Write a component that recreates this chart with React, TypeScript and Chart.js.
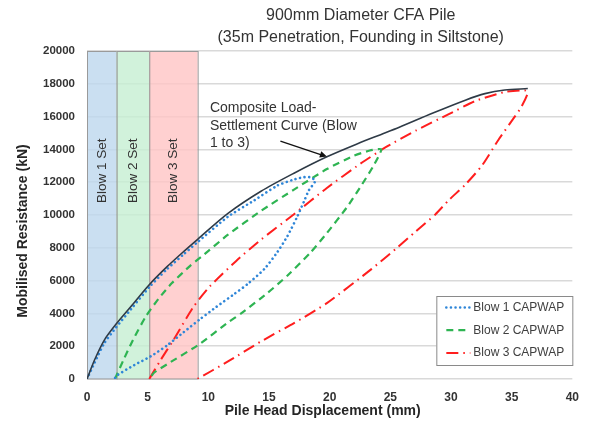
import React, { useEffect, useRef } from "react";
import { Chart, registerables } from "chart.js";

Chart.register(...registerables);

// ---------------- DATA ----------------
const titleLines = ["900mm Diameter CFA Pile", "(35m Penetration, Founding in Siltstone)"];
const xAxisTitle = "Pile Head Displacement (mm)";
const yAxisTitle = "Mobilised Resistance (kN)";
const xMin = 0, xMax = 40, xStep = 5;
const yMin = 0, yMax = 20000, yStep = 2000;

const compositeX = [0, 0.63, 1.44, 2.4, 3.62, 5.13, 6.6, 7.96, 9.12, 11.62, 14.34, 17.06, 19.77, 22.48, 24.2, 25.74, 28.46, 31.18, 32.8, 34.43, 36.33];
const compositeY = [0, 1175, 2390, 3350, 4420, 5750, 6850, 7770, 8520, 10100, 11450, 12550, 13550, 14400, 14900, 15350, 16200, 17000, 17400, 17620, 17710];

const blow1X = [0, 0.63, 1.44, 2.4, 3.62, 5.13, 6.6, 7.96, 9.12, 11.62, 13.8, 15.7, 17.0, 17.8, 18.41, 18.82, 18.28, 17.87, 17.33, 16.51, 15.7, 14.61, 13.25, 12.17, 10.67, 9.32, 7.96, 6.6, 5.25, 3.89, 2.53, 2.25];
const blow1Y = [0, 1000, 2200, 3150, 4250, 5600, 6700, 7600, 8350, 9900, 10900, 11800, 12150, 12300, 12300, 12090, 11500, 10800, 9900, 8700, 7750, 6700, 5800, 5200, 4400, 3650, 2850, 2050, 1380, 850, 250, 0];

const blow2X = [2.3, 3.0, 3.8, 4.84, 5.9, 7.0, 8.5, 9.59, 11.62, 14.34, 17.06, 19.77, 21.95, 23.3, 24.25, 23.57, 22.48, 21.4, 19.77, 18.41, 16.51, 14.88, 12.71, 11.62, 9.32, 6.6, 5.52, 5.15];
const blow2Y = [0, 1150, 2400, 3800, 4900, 5850, 6900, 7550, 8800, 10250, 11550, 12800, 13600, 13930, 14000, 12950, 11650, 10450, 8900, 7700, 6300, 5250, 4000, 3450, 2150, 900, 380, 0];

const blow3X = [5.13, 6.06, 7.14, 8.77, 10.13, 12.3, 14.34, 17.06, 19.77, 22.48, 24.66, 27.1, 29.82, 32.0, 34.43, 36.06, 36.33, 35.8, 35.24, 33.89, 32.54, 31.18, 29.82, 28.73, 27.1, 25.47, 23.44, 19.77, 17.06, 14.34, 11.62, 9.1];
const blow3Y = [0, 1150, 2400, 4400, 5650, 7200, 8500, 10050, 11650, 13100, 14150, 15150, 16150, 16950, 17500, 17600, 17450, 16590, 15980, 14560, 13000, 11850, 10910, 10050, 9000, 7950, 6700, 4625, 3410, 2290, 1070, 0];

const legendLabels = ["Blow 1 CAPWAP", "Blow 2 CAPWAP", "Blow 3 CAPWAP"];
const bandLabels = ["Blow 1 Set", "Blow 2 Set", "Blow 3 Set"];
const bandEdges = [0, 2.44, 5.13, 9.12];
const bandLabelY = 12700;
const annotationLines = ["Composite Load-", "Settlement Curve (Blow", "1 to 3)"];
const annotationPos = { x: 10.13, y: [16505, 15410, 14380] };
const arrowFrom = { x: 15.94, y: 14500 };
const arrowTo = { x: 19.77, y: 13560 };

// ---------------- STYLE ----------------
const FONT = "'Liberation Sans', Arial, sans-serif";
const TEXT = "#404040";
const colors = {
  composite: "#2f3b47",
  blow1: "#2f86d8",
  blow2: "#2eb452",
  blow3: "#ff1e1e",
};
const dashes = {
  blow1: [0.01, 4.6],
  blow2: [7, 5],
  blow3: [12, 5, 1.5, 5],
};
const bandFills = ["rgba(189,215,238,0.8)", "rgba(198,239,210,0.8)", "rgba(255,196,196,0.8)"];

const toPoints = (xs: number[], ys: number[]) => xs.map((x, i) => ({ x, y: ys[i] }));

const overlay = {
  id: "overlay",
  beforeDatasetsDraw(chart: any) {
    const { ctx, scales } = chart;
    const xs = scales.x, ys = scales.y;
    const top = ys.getPixelForValue(yMax), bottom = ys.getPixelForValue(yMin);
    ctx.save();
    for (let i = 0; i < bandLabels.length; i++) {
      const x0 = xs.getPixelForValue(bandEdges[i]);
      const x1 = xs.getPixelForValue(bandEdges[i + 1]);
      ctx.fillStyle = bandFills[i];
      ctx.fillRect(x0, top, x1 - x0, bottom - top);
      ctx.strokeStyle = "#9a9a9a";
      ctx.lineWidth = 1;
      ctx.strokeRect(x0 + 0.5, top + 0.5, x1 - x0, bottom - top - 0.5);
      ctx.save();
      ctx.translate((x0 + x1) / 2, ys.getPixelForValue(bandLabelY));
      ctx.rotate(-Math.PI / 2);
      ctx.fillStyle = "#333";
      ctx.font = `13.5px ${FONT}`;
      ctx.textAlign = "center";
      ctx.textBaseline = "middle";
      ctx.fillText(bandLabels[i], 0, 0);
      ctx.restore();
    }
    ctx.restore();
  },
  afterDraw(chart: any) {
    const { ctx, scales, chartArea } = chart;
    const xs = scales.x, ys = scales.y;
    ctx.save();
    // title
    ctx.fillStyle = "#333";
    ctx.font = `16px ${FONT}`;
    ctx.textAlign = "center";
    ctx.textBaseline = "middle";
    const tx = chartArea.left + (chartArea.right - chartArea.left) * 0.564;
    ctx.fillText(titleLines[0], tx, 16);
    ctx.fillText(titleLines[1], tx, 38);
    // axis titles
    ctx.fillStyle = "#262626";
    ctx.font = `bold 14px ${FONT}`;
    ctx.fillText(xAxisTitle, (chartArea.left + chartArea.right) / 2 - 7, 411);
    ctx.save();
    ctx.translate(23, 231);
    ctx.rotate(-Math.PI / 2);
    ctx.fillText(yAxisTitle, 0, 0);
    ctx.restore();
    // annotation
    ctx.fillStyle = "#333";
    ctx.font = `14px ${FONT}`;
    ctx.textAlign = "left";
    annotationLines.forEach((t, i) => {
      ctx.fillText(t, xs.getPixelForValue(annotationPos.x), ys.getPixelForValue(annotationPos.y[i]));
    });
    // arrow
    const ax0 = xs.getPixelForValue(arrowFrom.x), ay0 = ys.getPixelForValue(arrowFrom.y);
    const ax1 = xs.getPixelForValue(arrowTo.x), ay1 = ys.getPixelForValue(arrowTo.y);
    const ang = Math.atan2(ay1 - ay0, ax1 - ax0);
    ctx.strokeStyle = "#111";
    ctx.lineWidth = 1.3;
    ctx.beginPath();
    ctx.moveTo(ax0, ay0);
    ctx.lineTo(ax1 - 5 * Math.cos(ang), ay1 - 5 * Math.sin(ang));
    ctx.stroke();
    ctx.fillStyle = "#111";
    ctx.beginPath();
    ctx.moveTo(ax1, ay1);
    ctx.lineTo(ax1 - 7 * Math.cos(ang) + 3.2 * Math.sin(ang), ay1 - 7 * Math.sin(ang) - 3.2 * Math.cos(ang));
    ctx.lineTo(ax1 - 7 * Math.cos(ang) - 3.2 * Math.sin(ang), ay1 - 7 * Math.sin(ang) + 3.2 * Math.cos(ang));
    ctx.closePath();
    ctx.fill();
    // legend
    const bw = 136, bh = 69;
    const bx = chartArea.right - bw, by = 296;
    ctx.fillStyle = "#fff";
    ctx.fillRect(bx, by, bw, bh);
    ctx.strokeStyle = "#8a8a8a";
    ctx.lineWidth = 1;
    ctx.strokeRect(bx + 0.5, by + 0.5, bw, bh);
    const keys = ["blow1", "blow2", "blow3"] as const;
    const widths = [2.6, 2.2, 2];
    keys.forEach((k, i) => {
      const yy = by + 11.5 + i * 22.7;
      ctx.save();
      ctx.strokeStyle = (colors as any)[k];
      ctx.lineWidth = widths[i];
      ctx.lineCap = k === "blow1" ? "round" : "butt";
      ctx.setLineDash((dashes as any)[k]);
      ctx.beginPath();
      ctx.moveTo(bx + 10, yy);
      ctx.lineTo(bx + 34, yy);
      ctx.stroke();
      ctx.restore();
      ctx.fillStyle = TEXT;
      ctx.font = `12px ${FONT}`;
      ctx.textAlign = "left";
      ctx.textBaseline = "middle";
      ctx.fillText(legendLabels[i], bx + 37, yy);
    });
    ctx.restore();
  },
};

export default function App() {
  const ref = useRef<HTMLCanvasElement | null>(null);
  useEffect(() => {
    if (!ref.current) return;
    const chart = new Chart(ref.current, {
      type: "scatter",
      data: {
        datasets: [
          {
            label: "Composite",
            data: toPoints(compositeX, compositeY),
            showLine: true,
            borderColor: colors.composite,
            borderWidth: 1.6,
            pointRadius: 0,
            tension: 0.3,
            order: 0,
          },
          {
            label: legendLabels[0],
            data: toPoints(blow1X, blow1Y),
            showLine: true,
            borderColor: colors.blow1,
            borderWidth: 2.6,
            borderDash: dashes.blow1,
            borderCapStyle: "round",
            pointRadius: 0,
            tension: 0.2,
            order: 1,
          },
          {
            label: legendLabels[1],
            data: toPoints(blow2X, blow2Y),
            showLine: true,
            borderColor: colors.blow2,
            borderWidth: 2.2,
            borderDash: dashes.blow2,
            pointRadius: 0,
            tension: 0.2,
            order: 2,
          },
          {
            label: legendLabels[2],
            data: toPoints(blow3X, blow3Y),
            showLine: true,
            borderColor: colors.blow3,
            borderWidth: 2,
            borderDash: dashes.blow3,
            pointRadius: 0,
            tension: 0.2,
            order: 3,
          },
        ],
      },
      options: {
        animation: false,
        responsive: false,
        devicePixelRatio: 1,
        layout: { padding: { top: 51, right: 12, left: 0, bottom: 0 } },
        plugins: { legend: { display: false }, tooltip: { enabled: false }, title: { display: false } },
        scales: {
          x: {
            type: "linear",
            min: xMin,
            max: xMax,
            ticks: { stepSize: xStep, padding: 11, color: "#333", font: { family: FONT, size: 12, weight: "bold" }, callback: (v: any) => String(v) },
            grid: { display: false, drawTicks: false },
            border: { display: false },
            afterFit: (s: any) => { s.height = 44; },
          },
          y: {
            type: "linear",
            min: yMin,
            max: yMax,
            ticks: { stepSize: yStep, padding: 12, color: "#333", font: { family: FONT, size: 11.5, weight: "bold" }, callback: (v: any) => String(v) },
            grid: { color: "#d9d9d9", lineWidth: 1.5, drawTicks: false },
            border: { display: false },
            afterFit: (s: any) => { s.width = 87; },
          },
        },
      },
      plugins: [overlay],
    } as any);
    return () => chart.destroy();
  }, []);
  return (
    <div style={{ position: "absolute", left: 0, top: 0, width: 590, height: 423, background: "#fff" }}>
      <canvas ref={ref} width={590} height={423} />
    </div>
  );
}
